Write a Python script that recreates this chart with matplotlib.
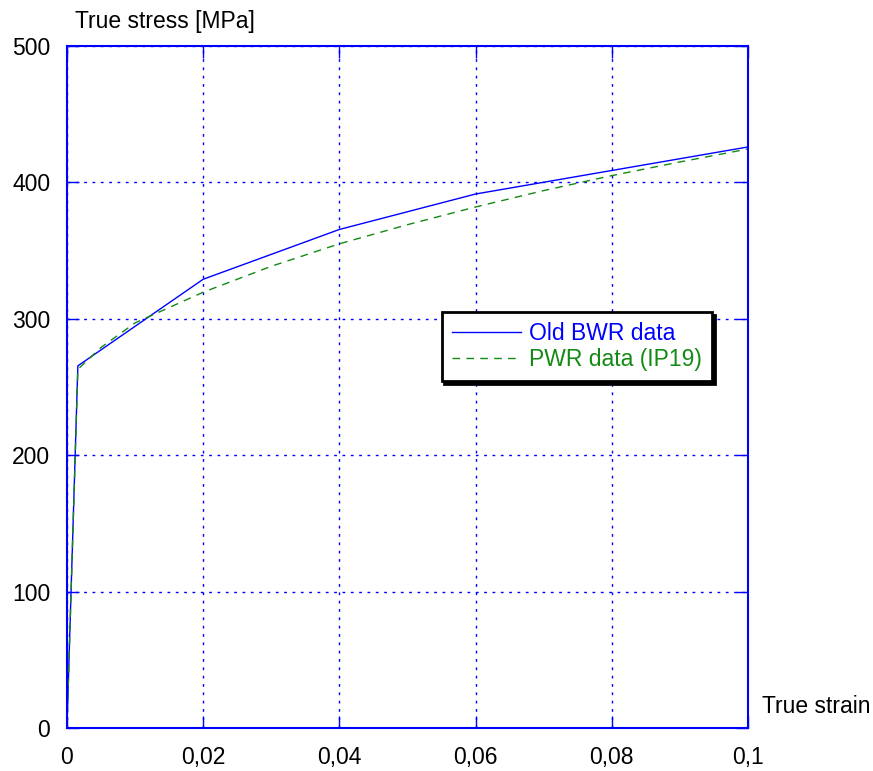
import numpy as np
import matplotlib.pyplot as plt

# data
bwr_strain = [0.0, 0.0016, 0.02, 0.04, 0.06, 0.1]
bwr_stress = [0.0, 265.5, 329.0, 365.5, 391.5, 426.0]

pwr_strain = [0.0, 0.0016, 0.005, 0.01, 0.02, 0.03, 0.04, 0.05, 0.06, 0.07, 0.08, 0.09, 0.1]
pwr_stress = [0.0, 263.0, 279.0, 297.0, 319.5, 338.5, 355.0, 369.0, 382.0, 394.0, 405.0, 415.0, 424.5]

x_ticks = [0, 0.02, 0.04, 0.06, 0.08, 0.1]
x_tick_labels = ["0", "0,02", "0,04", "0,06", "0,08", "0,1"]
y_ticks = [0, 100, 200, 300, 400, 500]

plt.rcParams['font.family'] = ['Liberation Sans', 'DejaVu Sans']

fig = plt.figure(figsize=(8.73, 7.71), dpi=100)
ax = fig.add_axes([0.0767, 0.0558, 0.7801, 0.8845])

ax.plot(bwr_strain, bwr_stress, color='#0000ff', lw=1.0, label='Old BWR data')
ax.plot(pwr_strain, pwr_stress, color='#138a13', lw=1.0, ls=(0, (5.5, 4.5)), label='PWR data (IP19)')

ax.set_xlim(0, 0.1)
ax.set_ylim(0, 500)
ax.set_xticks(x_ticks)
ax.set_xticklabels(x_tick_labels)
ax.set_yticks(y_ticks)

ax.grid(True, color='#0000ff', ls=(0, (2, 4)), lw=1.0)
for s in ax.spines.values():
    s.set_color('#0000ff')
    s.set_linewidth(1.5)
ax.tick_params(direction='in', length=8.5, width=1.0, color='#0000ff', labelsize=16.5,
               top=True, right=True)
ax.tick_params(axis='x', pad=13)
ax.tick_params(axis='y', pad=12)

fig.text(0.086, 0.972, "True stress [MPa]", fontsize=16.5, va='center', ha='left')
fig.text(0.873, 0.084, "True strain", fontsize=16.5, va='center', ha='left')

leg = ax.legend(loc='upper left', bbox_to_anchor=(0.550, 0.610), fontsize=16.5,
                fancybox=False, shadow={'color': 'black', 'alpha': 1.0},
                framealpha=1, edgecolor='black', handlelength=3.0,
                handletextpad=0.35, borderpad=0.45, labelspacing=0.1,
                borderaxespad=0)
leg.get_frame().set_linewidth(2)
for txt, line in zip(leg.get_texts(), leg.get_lines()):
    txt.set_color(line.get_color())

fig.savefig("out.png", dpi=100)
plt.close(fig)
